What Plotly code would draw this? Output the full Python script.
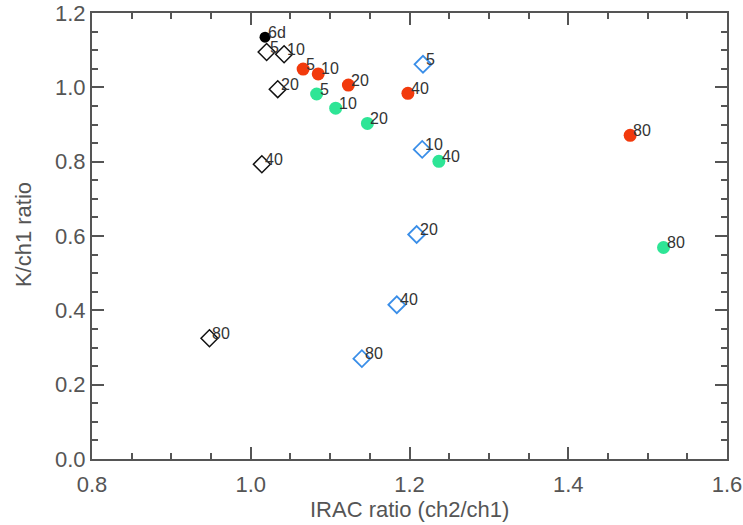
import plotly.graph_objects as go

# Black filled reference point
ref_x = [1.018]
ref_y = [1.135]
ref_lab = ["6d"]

# Black open diamonds
blk_x = [1.020, 1.042, 1.034, 1.014, 0.948]
blk_y = [1.095, 1.089, 0.995, 0.793, 0.325]
blk_lab = ["5", "10", "20", "40", "80"]

# Red filled circles
red_x = [1.066, 1.085, 1.123, 1.198, 1.478]
red_y = [1.049, 1.036, 1.006, 0.984, 0.871]
red_lab = ["5", "10", "20", "40", "80"]

# Green filled circles
grn_x = [1.083, 1.107, 1.147, 1.237, 1.520]
grn_y = [0.982, 0.944, 0.903, 0.801, 0.569]
grn_lab = ["5", "10", "20", "40", "80"]

# Blue open diamonds
blu_x = [1.217, 1.216, 1.209, 1.184, 1.140]
blu_y = [1.062, 0.833, 0.604, 0.415, 0.270]
blu_lab = ["5", "10", "20", "40", "80"]

x_ticks = [0.8, 1.0, 1.2, 1.4, 1.6]
y_ticks = [0.0, 0.2, 0.4, 0.6, 0.8, 1.0, 1.2]
x_title = "IRAC ratio (ch2/ch1)"
y_title = "K/ch1 ratio"

FONT = "Liberation Sans, Arial, Helvetica, sans-serif"
AX = "#555555"

fig = go.Figure()
annotations = []

def add(xs, ys, labs, symbol, color, size, line_w):
    fig.add_trace(go.Scatter(
        x=xs, y=ys, mode="markers",
        marker=dict(symbol=symbol, size=size, color=color,
                    line=dict(color=color, width=line_w)),
        showlegend=False, cliponaxis=False,
    ))
    for x, y, t in zip(xs, ys, labs):
        annotations.append(dict(
            x=x, y=y, text=t, showarrow=False, xanchor="left", yanchor="middle",
            xshift=1, yshift=5,
            font=dict(family=FONT, size=16, color="#333333"),
        ))

add(blk_x, blk_y, blk_lab, "diamond-open", "#111111", 13, 1.5)
add(blu_x, blu_y, blu_lab, "diamond-open", "#3a8ee8", 13, 1.8)
add(red_x, red_y, red_lab, "circle", "#f23a0c", 13, 0)
add(grn_x, grn_y, grn_lab, "circle", "#2ee596", 13, 0)
add(ref_x, ref_y, ref_lab, "circle", "#000000", 11, 0)

# Axis titles placed as paper annotations
annotations.append(dict(x=0.5, y=-0.113, xref="paper", yref="paper", text=x_title,
                        showarrow=False, xanchor="center", yanchor="middle",
                        font=dict(family=FONT, size=22, color=AX)))
annotations.append(dict(x=-0.108, y=0.503, xref="paper", yref="paper", text=y_title,
                        showarrow=False, xanchor="center", yanchor="middle", textangle=-90,
                        font=dict(family=FONT, size=22, color=AX)))

axis_common = dict(
    showgrid=False, zeroline=False, showline=True, linecolor=AX, linewidth=2,
    mirror="ticks", ticks="inside", ticklen=12, tickwidth=1.5, tickcolor=AX,
    tickfont=dict(family=FONT, size=22, color=AX), automargin=False,
)

fig.update_layout(
    width=743, height=525,
    margin=dict(l=92, r=16, t=13, b=66),
    paper_bgcolor="white", plot_bgcolor="white",
    annotations=annotations,
    xaxis=dict(range=[0.8, 1.6], tickvals=x_ticks, ticktext=[f"{v:.1f}" for v in x_ticks],
               ticklabelstandoff=5,
               minor=dict(dtick=0.05, tick0=0.8, ticks="inside", ticklen=6, tickwidth=1.5, tickcolor=AX),
               **axis_common),
    yaxis=dict(range=[0.0, 1.2], tickvals=y_ticks, ticktext=[f"{v:.1f}" for v in y_ticks],
               minor=dict(dtick=0.05, tick0=0.0, ticks="inside", ticklen=6, tickwidth=1.5, tickcolor=AX),
               **axis_common),
)

fig.write_html("out.html")
